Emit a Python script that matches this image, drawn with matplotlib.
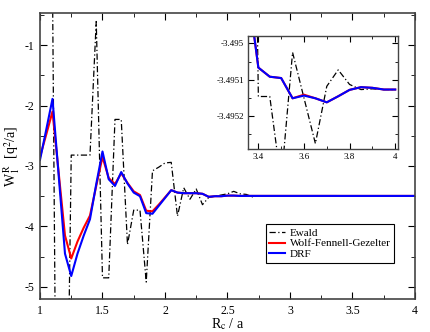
import matplotlib
matplotlib.use("Agg")
import matplotlib.pyplot as plt
from matplotlib.ticker import MultipleLocator, FixedLocator, FuncFormatter

plt.rcParams['font.family'] = ['Liberation Serif', 'DejaVu Serif']
plt.rcParams['mathtext.fontset'] = 'stix'
plt.rcParams['axes.unicode_minus'] = False

rc = [1.00, 1.05, 1.10, 1.15, 1.20, 1.25, 1.30, 1.35, 1.40, 1.45,
      1.50, 1.55, 1.60, 1.65, 1.70, 1.75, 1.80, 1.85, 1.90, 1.95,
      2.00, 2.05, 2.10, 2.15, 2.20, 2.25, 2.30, 2.35, 2.40, 2.45,
      2.50, 2.55, 2.60, 2.65, 2.70, 2.75, 2.80, 2.85, 2.90, 2.95,
      3.00, 3.05, 3.10, 3.15, 3.20, 3.25, 3.30, 3.35, 3.40, 3.45,
      3.50, 3.55, 3.60, 3.65, 3.70, 3.75, 3.80, 3.85, 3.90, 3.95, 4.00]

ewald = [3.0, 2.0, 0.0, -13.0, -10.3, -2.82, -2.82, -2.82, -2.82, -0.61,
         -4.85, -4.85, -2.23, -2.23, -4.30, -3.73, -3.73, -4.92, -3.08, -3.02,
         -2.95, -2.94, -3.83, -3.36, -3.55, -3.38, -3.64, -3.52, -3.50, -3.48,
         -3.46, -3.42, -3.46, -3.47, -3.51, -3.496, -3.494, -3.495, -3.4955, -3.4948,
         -3.4952, -3.4949, -3.4951, -3.4950, -3.4951, -3.4949, -3.4951, -3.4930, -3.495146, -3.495146,
         -3.495380, -3.495025, -3.495150, -3.495275, -3.495118, -3.495073, -3.495113, -3.495127, -3.495125, -3.495127, -3.495127]

wfg = [-2.85, -2.48, -2.10, -3.12, -4.15, -4.53, -4.25, -4.02, -3.82, -3.33,
       -2.85, -3.20, -3.30, -3.12, -3.28, -3.42, -3.48, -3.74, -3.75, -3.64,
       -3.52, -3.40, -3.44, -3.45, -3.45, -3.45, -3.46, -3.51, -3.50, -3.50,
       -3.49, -3.49, -3.495, -3.4948, -3.4949, -3.4948, -3.4949, -3.4948, -3.4949, -3.4948,
       -3.4948, -3.4948, -3.4948, -3.4948, -3.4948, -3.4948, -3.4948, -3.49483, -3.4950667, -3.4950917,
       -3.4950954, -3.4951509, -3.4951410, -3.4951509, -3.4951620, -3.4951454, -3.4951278, -3.4951204, -3.4951222, -3.4951269, -3.4951269]

drf = [-2.90, -2.40, -1.89, -3.17, -4.45, -4.82, -4.45, -4.15, -3.88, -3.30,
       -2.76, -3.22, -3.33, -3.10, -3.29, -3.44, -3.50, -3.78, -3.79, -3.66,
       -3.53, -3.40, -3.44, -3.45, -3.45, -3.45, -3.46, -3.51, -3.50, -3.50,
       -3.49, -3.49, -3.495, -3.4948, -3.4949, -3.4948, -3.4949, -3.4948, -3.4949, -3.4948,
       -3.4948, -3.4948, -3.4948, -3.4948, -3.4948, -3.4948, -3.4948, -3.49483, -3.4950667, -3.4950917,
       -3.4950954, -3.4951509, -3.4951435, -3.4951509, -3.4951620, -3.4951454, -3.4951278, -3.4951204, -3.4951222, -3.4951269, -3.4951269]

labels = ["Ewald", "Wolf-Fennell-Gezelter", "DRF"]

fig = plt.figure(figsize=(4.30, 3.32), dpi=100)
ax = fig.add_axes([0.093, 0.0994, 0.872, 0.8614])

def draw(a, lw_main=1.5):
    a.plot(rc, ewald, color='black', lw=0.9, ls=(0, (5, 2, 1, 2)), label=labels[0])
    a.plot(rc, wfg, color='#ff0000', lw=lw_main, label=labels[1])
    a.plot(rc, drf, color='#0000ff', lw=lw_main, label=labels[2])

fmt_g = FuncFormatter(lambda v, p: '%g' % v)

draw(ax)
ax.set_xlim(1, 4)
ax.set_ylim(-5.2, -0.47)
ax.xaxis.set_major_locator(MultipleLocator(0.5))
ax.xaxis.set_minor_locator(MultipleLocator(0.25))
ax.yaxis.set_major_locator(MultipleLocator(1))
ax.yaxis.set_minor_locator(MultipleLocator(0.5))
ax.xaxis.set_major_formatter(fmt_g)
ax.yaxis.set_major_formatter(fmt_g)
ax.tick_params(which='both', direction='in', top=True, right=True, labelsize=8.5, pad=4)
ax.tick_params(which='major', length=5)
ax.tick_params(which='minor', length=3)
for s in ax.spines.values():
    s.set_color('#444444')
    s.set_linewidth(1.2)
ax.set_xlabel(r'R$_\mathrm{c}$ / a', fontsize=10, labelpad=0)
ax.set_ylabel(r'W$_1^{\,\mathrm{R}}$  [q$^2$/a]', fontsize=10, labelpad=2)

leg = ax.legend(loc='lower left', bbox_to_anchor=(0.602, 0.127), fontsize=8,
                frameon=True, fancybox=False, edgecolor='black', framealpha=1,
                handlelength=1.4, handletextpad=0.5, borderpad=0.3, labelspacing=0.1,
                borderaxespad=0)
leg.get_frame().set_linewidth(0.8)

ins = fig.add_axes([0.5775, 0.5512, 0.349, 0.3404])
draw(ins, lw_main=1.5)
ins.set_xlim(3.356, 4.014)
ins.set_ylim(-3.49529, -3.49498)
ins.xaxis.set_major_locator(FixedLocator([3.4, 3.6, 3.8, 4.0]))
ins.xaxis.set_minor_locator(FixedLocator([3.5, 3.7, 3.9]))
ins.yaxis.set_major_locator(FixedLocator([-3.495, -3.4951, -3.4952]))
ins.yaxis.set_minor_locator(FixedLocator([-3.49505, -3.49515, -3.49525]))
ins.xaxis.set_major_formatter(fmt_g)
ins.yaxis.set_major_formatter(FuncFormatter(lambda v, p: '%.7g' % v))
ins.tick_params(which='both', direction='in', top=True, right=True, labelsize=6.5, pad=3)
ins.tick_params(which='major', length=4)
ins.tick_params(which='minor', length=2.5)
for s in ins.spines.values():
    s.set_color('#444444')
    s.set_linewidth(1.0)

fig.savefig('out.png', dpi=100)
